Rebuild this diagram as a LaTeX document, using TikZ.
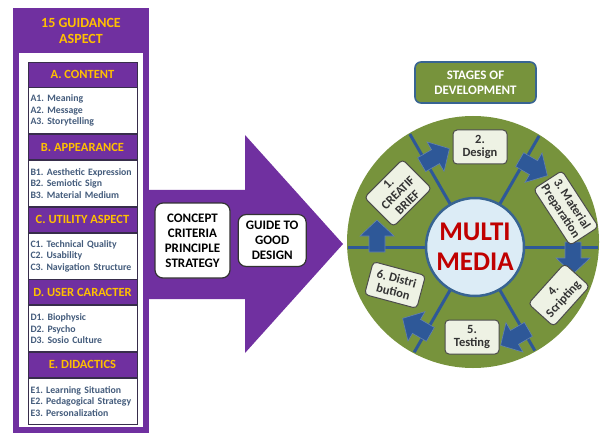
\documentclass[tikz,border=0pt]{standalone}
\usepackage{fontspec}
\setmainfont{Carlito}
\usetikzlibrary{positioning, arrows.meta}
\definecolor{guidepurple}{RGB}{112,48,160}
\definecolor{guidegold}{RGB}{255,192,0}
\definecolor{itemblue}{RGB}{68,92,124}
\definecolor{frameedge}{RGB}{55,45,75}
\definecolor{wheelgreen}{RGB}{119,147,60}
\definecolor{spokeblue}{RGB}{46,88,152}
\definecolor{hubblue}{RGB}{220,236,246}
\definecolor{hubedge}{RGB}{56,100,146}
\definecolor{mmred}{RGB}{192,0,0}
\definecolor{stagefill}{RGB}{238,242,228}
\tikzset{
  header/.style={
    rectangle,
    draw=frameedge, line width=0.8pt,
    fill=guidepurple,
    text=guidegold,
    font=\frenchspacing\bfseries\fontsize{12.5}{14}\selectfont,
    minimum width=109pt,
    minimum height=25pt,
    inner sep=0pt
  },
  items/.style={
    rectangle,
    draw=frameedge, line width=0.8pt,
    fill=white,
    text=itemblue,
    font=\frenchspacing\bfseries\fontsize{9.8}{11.5}\selectfont,
    text width=104pt,
    align=left,
    inner xsep=2.5pt, inner ysep=0pt,
    minimum height=46pt
  },
  idea/.style={
    rectangle,
    rounded corners=8pt,
    draw=black!80, line width=1.2pt,
    fill=white,
    font=\bfseries\fontsize{13}{15}\selectfont,
    align=center,
    inner sep=2pt
  },
  stage/.style={
    rectangle,
    rounded corners=4pt,
    draw=black!70, line width=1pt,
    fill=stagefill,
    text=black!80,
    font=\frenchspacing\bfseries\fontsize{12.5}{13.5}\selectfont,
    align=center,
    inner sep=3pt,
    minimum width=54pt,
    minimum height=34pt
  },
  spoke/.style={
    draw=spokeblue,
    line width=3pt
  },
  flow/.style={
    fill=spokeblue,
    draw=spokeblue!75!white,
    line width=0.6pt
  }
}

\begin{document}
\begin{tikzpicture}[x=1pt, y=1pt]
\useasboundingbox (0,0) rectangle (601,434);

% nodes
%% guidance aspects
\node[fill=guidepurple, minimum width=136pt, minimum height=425pt, inner sep=0pt] (frame) at (81,213.5) {};
\fill[guidepurple] (148,135) -- (245,135) -- (245,81) -- (343,190) -- (245,299) -- (245,244) -- (148,244) -- cycle;
\node[fill=white, minimum width=124pt, minimum height=374pt, inner sep=0pt] (sheet) at (81,194) {};
\node[text=guidegold, font=\bfseries\fontsize{14}{15.5}\selectfont, align=center] (title) at (81,403)
{15 GUIDANCE\\ASPECT};

\node[header] (hA) at (82.5,359.5) {A. CONTENT};
\node[items, below = 0pt of hA] (iA)
{A1. Meaning\\A2. Message\\A3. Storytelling};
\node[header, below = 0pt of iA] (hB) {B. APPEARANCE};
\node[items, below = 0pt of hB] (iB)
{B1. Aesthetic Expression\\B2. Semiotic Sign\\B3. Material Medium};
\node[header, below = 0pt of iB] (hC) {C. UTILITY ASPECT};
\node[items, below = 0pt of hC] (iC)
{C1. Technical Quality\\C2. Usability\\C3. Navigation Structure};
\node[header, below = 0pt of iC] (hD) {D. USER CARACTER};
\node[items, below = 0pt of hD] (iD)
{D1. Biophysic\\D2. Psycho\\D3. Sosio Culture};
\node[header, below = 0pt of iD] (hE) {E. DIDACTICS};
\node[items, below = 0pt of hE] (iE)
{E1. Learning Situation\\E2. Pedagogical Strategy\\E3. Personalization};

%% big arrow
\node[idea, minimum width=75pt, minimum height=75pt] (concept) at (192.5,193.5)
{CONCEPT\\CRITERIA\\PRINCIPLE\\STRATEGY};
\node[idea, minimum width=68pt, minimum height=52pt, right = 7pt of concept] (guide)
{GUIDE TO\\GOOD\\DESIGN};

%% stages
\node[rectangle, rounded corners=6pt, draw=hubedge, line width=1.6pt, fill=wheelgreen,
      text=white, font=\bfseries\fontsize{13}{15}\selectfont, align=center,
      minimum width=121pt, minimum height=41pt] (stages) at (475.5,351.5)
{STAGES OF\\DEVELOPMENT};

\node[circle, fill=wheelgreen, minimum size=252pt, inner sep=0pt] (wheel) at (473,192) {};
\coordinate (hub) at (475,187);

% edges
\begin{scope}
\clip (wheel.center) circle (125);
\foreach \a in {0,60,...,300}
  \draw [spoke] (hub) -- ++(\a:150);
\end{scope}
\foreach \a in {0,60,...,300}
  \draw [flow, shift={(hub)}, rotate=\a]
    (90,5) -- (90,-11) -- (81,-11) -- (98,-27) -- (115,-11) -- (106,-11) -- (106,5) -- cycle;

\node[circle, fill=hubblue, draw=hubedge, line width=2.5pt, minimum size=98pt, inner sep=0pt,
      text=mmred, font=\bfseries\fontsize{27}{30}\selectfont, align=center] (mm) at (hub)
{MULTI\\MEDIA};

\node[stage, rotate=45] (s1) at (398,241) {1.\\CREATIF\\BRIEF};
\node[stage] (s2) at (480,287) {2.\\Design};
\node[stage, rotate=-57] (s3) at (566,226) {3. Material\\Preparation};
\node[stage, rotate=48] (s4) at (559,139) {4.\\Scripting};
\node[stage] (s5) at (472,97) {5.\\Testing};
\node[stage, rotate=-15] (s6) at (395,149) {6. Distri\\bution};

\end{tikzpicture}
\end{document}
